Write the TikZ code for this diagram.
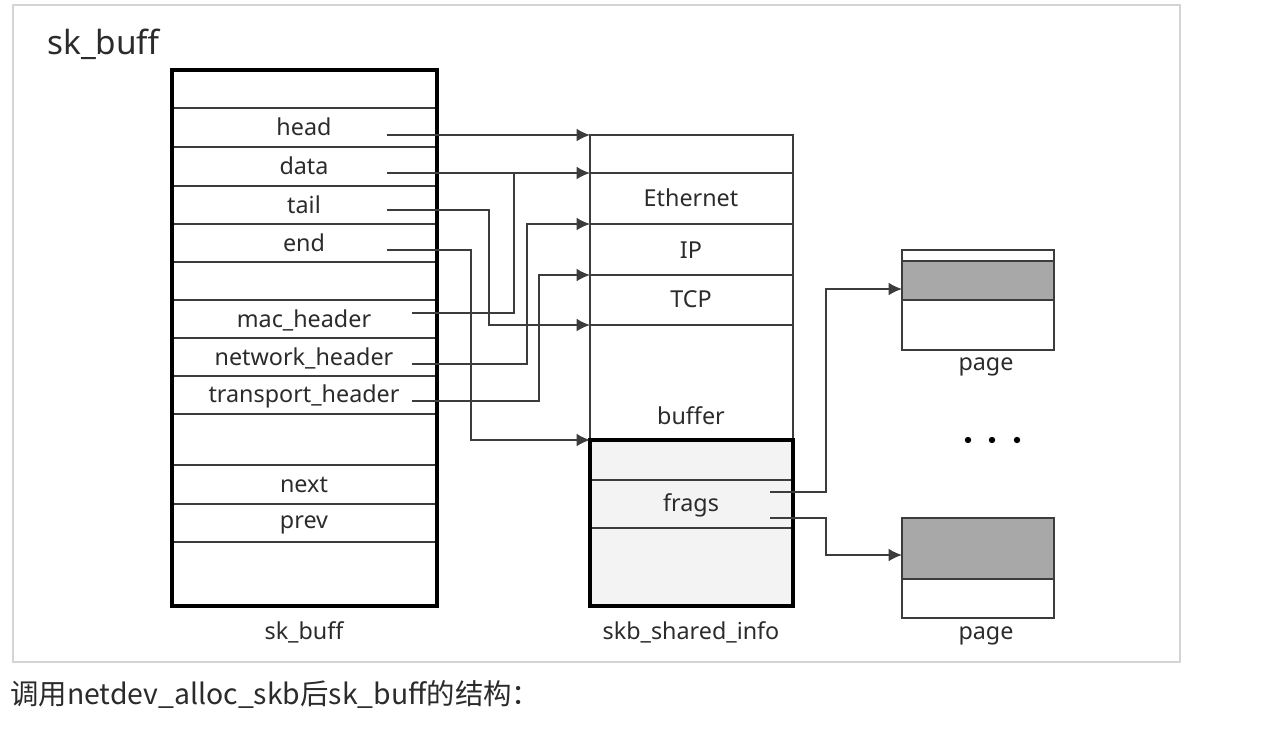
\documentclass[tikz,border=0pt]{standalone}
\usepackage{fontspec}
\setmainfont{Noto Sans}
\newfontfamily\cjkfont{Noto Sans CJK SC}
\usetikzlibrary{positioning, arrows.meta, calc}
\definecolor{ink}{HTML}{2b2b2b}
\definecolor{wire}{HTML}{3c3c3c}
\definecolor{frame}{HTML}{d4d4d4}
\definecolor{pagegray}{HTML}{a8a8a8}
\definecolor{pale}{HTML}{f3f3f3}

\begin{document}
\begin{tikzpicture}[x=0.75pt, y=-0.75pt, font=\fontsize{17.5}{20}\selectfont, text=ink,
  field/.style={inner sep=0pt},
  row/.style={wire, line width=1pt},
  thickbox/.style={black, line width=3pt},
  thinbox/.style={wire, line width=1pt},
  link/.style={wire, line width=1.2pt, -{Latex[length=10pt,width=9.5pt]}},
  tap/.style={wire, line width=1.2pt}]
  \useasboundingbox (0,0) rectangle (1262,729);

  % outer frame + caption
  \draw[frame, line width=1.2pt] (13,5) rectangle (1180,662);
  \node[field, anchor=west, font=\cjkfont\fontsize{21.3}{24}\selectfont] (caption) at (10,694)
    {调用netdev\_alloc\_skb后sk\_buff的结构：};
  \node[field, anchor=west, font=\fontsize{25}{28}\selectfont] (title) at (47,44) {sk\_buff};

  % sk_buff struct
  \foreach \y in {108,147,186,224,262,300,338,376,414,465,504,542}
    \draw[row] (172,\y) -- (437,\y);
  \draw[thickbox] (172,70) rectangle (437,606);
  \foreach \n/\t/\y in {head/head/127, data/data/166, tail/tail/205, end/end/243,
                        mac/mac\_header/320, net/network\_header/358,
                        trans/transport\_header/396, next/next/485, prev/prev/525}
    \node[field] (\n) at (304,\y) {\t};
  \node[field] (skblabel) at (304,632) {sk\_buff};

  % data buffer
  \draw[thinbox] (590,440) -- (590,135) -- (793,135) -- (793,440);
  \foreach \y in {173,224,275,325}
    \draw[thinbox] (590,\y) -- (793,\y);
  \node[field] (eth) at (691,198) {Ethernet};
  \node[field] (ip) at (691,250) {IP};
  \node[field] (tcp) at (691,299) {TCP};
  \node[field] (buffer) at (691,416) {buffer};

  % skb_shared_info
  \fill[pale] (590,440) rectangle (793,606);
  \draw[thinbox] (590,480) -- (793,480);
  \draw[thinbox] (590,528) -- (793,528);
  \draw[thickbox] (590,440) rectangle (793,606);
  \node[field] (frags) at (691,505) {frags};
  \node[field] (shlabel) at (691,632) {skb\_shared\_info};

  % pages
  \fill[pagegray] (902,261) rectangle (1054,300);
  \draw[thinbox] (902,250) rectangle (1054,350);
  \draw[thinbox] (902,261) -- (1054,261);
  \draw[thinbox] (902,300) -- (1054,300);
  \node[field] (pagelabelA) at (986,367) {page};
  \fill[pagegray] (902,518) rectangle (1054,579);
  \draw[thinbox] (902,518) rectangle (1054,618);
  \draw[thinbox] (902,579) -- (1054,579);
  \node[field] (pagelabelB) at (986,636) {page};
  \foreach \x in {968,992,1017}
    \fill[black] (\x,440) circle (3.2);

  % ends of the pointers
  \coordinate (headsrc) at (387,135);
  \coordinate (datasrc) at (387,173);
  \coordinate (tailsrc) at (387,210);
  \coordinate (endsrc) at (387,250);
  \coordinate (macsrc) at (412,313);
  \coordinate (netsrc) at (412,364);
  \coordinate (transsrc) at (412,401);
  \coordinate (datajoin) at (514,173);
  \coordinate (buftop) at (590,135);
  \coordinate (ethtop) at (590,173);
  \coordinate (iptop) at (590,224);
  \coordinate (tcptop) at (590,275);
  \coordinate (tcpbot) at (590,325);
  \coordinate (shtop) at (590,440);
  \coordinate (fragsA) at (770,492);
  \coordinate (fragsB) at (770,518);
  \coordinate (pageinA) at (902,289);
  \coordinate (pageinB) at (902,555);

  % pointers
  \draw[link] (headsrc) -- (buftop);
  \draw[link] (datasrc) -- (ethtop);
  \draw[tap] (macsrc) -| (datajoin);
  \draw[link] (tailsrc) -- ++(102,0) |- (tcpbot);
  \draw[link] (endsrc) -- ++(84,0) |- (shtop);
  \draw[link] (netsrc) -- ++(115,0) |- (iptop);
  \draw[link] (transsrc) -- ++(127,0) |- (tcptop);
  \draw[link] (fragsA) -- ++(56,0) |- (pageinA);
  \draw[link] (fragsB) -- ++(56,0) |- (pageinB);
\end{tikzpicture}
\end{document}
